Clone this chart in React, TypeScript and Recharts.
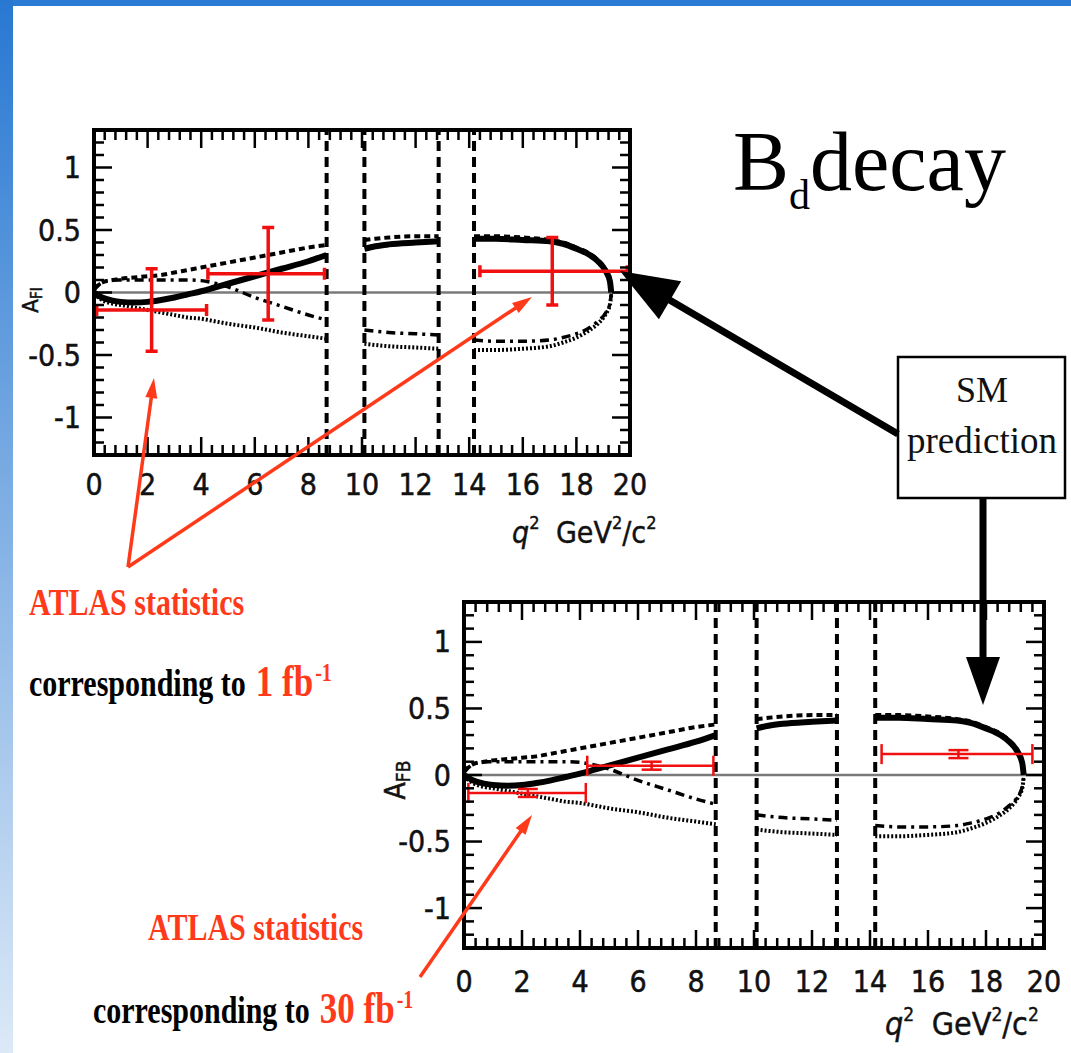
import React from 'react'
import { ComposedChart, Line, Scatter, ErrorBar, XAxis, YAxis, ReferenceLine } from 'recharts'

// q^2 grid of the theory curves, one block per window between the charmonium vetoes
const Q_LOW = [0, 0.3, 0.7, 1, 1.5, 2, 2.5, 3, 3.5, 4, 4.5, 5, 6, 7, 8, 8.68]
const Q_MID = [10.09, 10.5, 11, 12, 12.86]
const Q_HIGH = [14.18, 15, 16, 17, 17.5, 18, 18.5, 18.8, 19.1, 19.25, 19.3]

// SM prediction (thick solid)
const SM_LOW = [0, -0.04, -0.065, -0.075, -0.08, -0.075, -0.06, -0.04, -0.015, 0.01, 0.04, 0.07, 0.13, 0.19, 0.25, 0.3]
const SM_MID = [0.35, 0.37, 0.385, 0.4, 0.41]
const SM_HIGH = [0.43, 0.43, 0.42, 0.41, 0.39, 0.35, 0.3, 0.25, 0.17, 0.09, 0]

// upper dashed model
const DASH_LOW = [0.03, 0.08, 0.1, 0.11, 0.12, 0.13, 0.14, 0.16, 0.18, 0.2, 0.22, 0.24, 0.28, 0.32, 0.36, 0.38]
const DASH_MID = [0.42, 0.43, 0.44, 0.45, 0.45]
const DASH_HIGH = [0.45, 0.45, 0.44, 0.42, 0.4, 0.36, 0.31, 0.26, 0.18, 0.1, 0.01]

// dash-dot model (flat at +0.1 below 4 GeV^2)
const DASHDOT_LOW = [0.02, 0.08, 0.1, 0.1, 0.1, 0.1, 0.1, 0.1, 0.1, 0.095, 0.075, 0.045, -0.04, -0.11, -0.18, -0.22]
const DASHDOT_MID = [-0.3, -0.31, -0.32, -0.33, -0.34]
const DASHDOT_HIGH = [-0.38, -0.39, -0.39, -0.38, -0.36, -0.33, -0.28, -0.23, -0.16, -0.09, -0.01]

// lower dotted model
const DOT_LOW = [-0.01, -0.06, -0.09, -0.1, -0.12, -0.14, -0.16, -0.18, -0.2, -0.21, -0.23, -0.25, -0.28, -0.32, -0.35, -0.37]
const DOT_MID = [-0.41, -0.42, -0.43, -0.44, -0.45]
const DOT_HIGH = [-0.46, -0.46, -0.45, -0.43, -0.4, -0.36, -0.3, -0.25, -0.17, -0.1, -0.02]

// veto boundaries (vertical dashed lines)
const VETO_Q = [8.68, 10.09, 12.86, 14.18]

// ATLAS pseudo-data, 1 fb^-1
const TOP_Q = [2.15, 6.5, 17.1]
const TOP_A = [-0.14, 0.15, 0.17]
const TOP_BIN_LO = [0.1, 4.25, 14.4]
const TOP_BIN_HI = [4.2, 8.6, 19.9]
const TOP_ERR = [0.33, 0.37, 0.27]

// ATLAS pseudo-data, 30 fb^-1
const BOT_Q = [2.2, 6.47, 17.05]
const BOT_A = [-0.135, 0.07, 0.157]
const BOT_BIN_LO = [0.15, 4.25, 14.4]
const BOT_BIN_HI = [4.2, 8.6, 19.6]
const BOT_ERR = [0.03, 0.03, 0.03]

const X_LABELS = [0, 2, 4, 6, 8, 10, 12, 14, 16, 18, 20]
const Y_LABELS = [-1, -0.5, 0, 0.5, 1]

const X_TICKS = Array.from({ length: 51 }, (_, i) => i * 0.4)
const Y_TICKS = Array.from({ length: 27 }, (_, i) => (i - 13) / 10)

const GAP = null
const joinSeg = (a: number[], b: number[], c: number[]) => [...a, GAP, ...b, GAP, ...c]
const Q_ALL = [...Q_LOW, 9.4, ...Q_MID, 13.5, ...Q_HIGH]
const SM = joinSeg(SM_LOW, SM_MID, SM_HIGH)
const DASH = joinSeg(DASH_LOW, DASH_MID, DASH_HIGH)
const DASHDOT = joinSeg(DASHDOT_LOW, DASHDOT_MID, DASHDOT_HIGH)
const DOT = joinSeg(DOT_LOW, DOT_MID, DOT_HIGH)
const curves = Q_ALL.map((q, i) => ({ q, sm: SM[i], dash: DASH[i], dashdot: DASHDOT[i], dot: DOT[i] }))

const makePoints = (qs: number[], as: number[], lo: number[], hi: number[], err: number[]) =>
  qs.map((q, i) => ({ q, a: as[i], ex: [q - lo[i], hi[i] - q], ey: err[i] }))

const topPoints = makePoints(TOP_Q, TOP_A, TOP_BIN_LO, TOP_BIN_HI, TOP_ERR)
const botPoints = makePoints(BOT_Q, BOT_A, BOT_BIN_LO, BOT_BIN_HI, BOT_ERR)

const NARROW = '"Liberation Sans Narrow", "Arial Narrow", "DejaVu Sans Condensed", sans-serif'
const SERIF = '"Liberation Serif", "Times New Roman", serif'
const RED = '#ff3a1a'
const ERR_RED = '#f01010'

const near = (v: number, step: number) => Math.abs(v / step - Math.round(v / step)) < 1e-6
const fmt = (v: number) => (Math.abs(v) < 1e-9 ? '0' : String(v))

const xTick = (side: 'top' | 'bottom', labelDy: number) => (props: any) => {
  const { x, y, payload } = props
  const v = payload.value
  const major = near(v, 2)
  const len = major ? 18 : 10
  const dir = side === 'bottom' ? -1 : 1
  const lab = X_LABELS.find(l => Math.abs(l - v) < 1e-6)
  return (
    <g>
      <line x1={x} y1={y} x2={x} y2={y + dir * len} stroke="#000" strokeWidth={2.5} />
      {side === 'bottom' && lab !== undefined && (
        <text x={x} y={y + labelDy} textAnchor="middle" fontFamily={NARROW} fontSize={30} fill="#111" stroke="#111" strokeWidth={0.5}>
          {fmt(lab)}
        </text>
      )}
    </g>
  )
}

const yTick = (side: 'left' | 'right') => (props: any) => {
  const { x, y, payload } = props
  const v = payload.value
  const major = near(v, 0.5)
  const len = major ? 18 : 10
  const dir = side === 'left' ? 1 : -1
  const lab = Y_LABELS.find(l => Math.abs(l - v) < 1e-6)
  return (
    <g>
      <line x1={x} y1={y} x2={x + dir * len} y2={y} stroke="#000" strokeWidth={2.5} />
      {side === 'left' && lab !== undefined && (
        <text x={x - 13} y={y} textAnchor="end" dominantBaseline="central" fontFamily={NARROW} fontSize={30} fill="#111" stroke="#111" strokeWidth={0.5}>
          {fmt(lab)}
        </text>
      )}
    </g>
  )
}

const frameLine = { stroke: '#000', strokeWidth: 4, strokeLinecap: 'square' as const }

function AfbPlot({ width, height, margin, points, labelDy, barWidth, capWidth }: any) {
  return (
    <ComposedChart width={width} height={height} data={curves} margin={margin}>
      <XAxis xAxisId="b" dataKey="q" type="number" domain={[0, 20]} allowDataOverflow orientation="bottom" height={60}
        ticks={X_TICKS} interval={0} tickLine={false} tickSize={0} tickMargin={0} axisLine={frameLine} tick={xTick('bottom', labelDy)} />
      <XAxis xAxisId="t" dataKey="q" type="number" domain={[0, 20]} allowDataOverflow orientation="top" height={10}
        ticks={X_TICKS} interval={0} tickLine={false} tickSize={0} tickMargin={0} axisLine={frameLine} tick={xTick('top', 0)} />
      <YAxis yAxisId="l" type="number" domain={[-1.3, 1.3]} allowDataOverflow orientation="left" width={80}
        ticks={Y_TICKS} interval={0} tickLine={false} tickSize={0} tickMargin={0} axisLine={frameLine} tick={yTick('left')} />
      <YAxis yAxisId="r" type="number" domain={[-1.3, 1.3]} allowDataOverflow orientation="right" width={10}
        ticks={Y_TICKS} interval={0} tickLine={false} tickSize={0} tickMargin={0} axisLine={frameLine} tick={yTick('right')} />
      <ReferenceLine xAxisId="b" yAxisId="l" y={0} stroke="#7a7a7a" strokeWidth={2.5} />
      {VETO_Q.map(q => (
        <ReferenceLine key={q} xAxisId="b" yAxisId="l" x={q} stroke="#000" strokeWidth={4} strokeDasharray="10 6" />
      ))}
      <Line xAxisId="b" yAxisId="l" type="monotone" dataKey="dot" stroke="#000" strokeWidth={4} strokeDasharray="2 2" dot={false} isAnimationActive={false} />
      <Line xAxisId="b" yAxisId="l" type="monotone" dataKey="dashdot" stroke="#000" strokeWidth={3.5} strokeDasharray="9 5 3 5" dot={false} isAnimationActive={false} />
      <Line xAxisId="b" yAxisId="l" type="monotone" dataKey="dash" stroke="#000" strokeWidth={4} strokeDasharray="6 4" dot={false} isAnimationActive={false} />
      <Line xAxisId="b" yAxisId="l" type="monotone" dataKey="sm" stroke="#000" strokeWidth={6} dot={false} isAnimationActive={false} />
      <Scatter xAxisId="b" yAxisId="l" data={points} dataKey="a" shape={() => <g />} isAnimationActive={false}>
        <ErrorBar dataKey="ex" direction="x" stroke={ERR_RED} strokeWidth={barWidth} width={capWidth} />
        <ErrorBar dataKey="ey" direction="y" stroke={ERR_RED} strokeWidth={barWidth} width={capWidth} />
      </Scatter>
    </ComposedChart>
  )
}

function Arrow({ from, to, color, w, head, half }: any) {
  const dx = to[0] - from[0]
  const dy = to[1] - from[1]
  const len = Math.hypot(dx, dy)
  const ux = dx / len
  const uy = dy / len
  const bx = to[0] - ux * head
  const by = to[1] - uy * head
  const nx = -uy
  const ny = ux
  return (
    <g>
      <line x1={from[0]} y1={from[1]} x2={bx + ux * 3} y2={by + uy * 3} stroke={color} strokeWidth={w} />
      <polygon points={`${to[0]},${to[1]} ${bx + nx * half},${by + ny * half} ${bx - nx * half},${by - ny * half}`} fill={color} />
    </g>
  )
}

function AxisTitle({ x, y, size }: any) {
  const sup = Math.round(size * 0.6)
  const up = Math.round(size * 0.45)
  return (
    <text x={x} y={y} fontFamily={NARROW} fontSize={size} fill="#111" stroke="#111" strokeWidth={0.4}>
      <tspan fontStyle="italic">q</tspan>
      <tspan fontSize={sup} dy={-up}>2</tspan>
      <tspan dy={up} dx={size * 0.55}>GeV</tspan>
      <tspan fontSize={sup} dy={-up}>2</tspan>
      <tspan dy={up}>/c</tspan>
      <tspan fontSize={sup} dy={-up}>2</tspan>
    </text>
  )
}

// slide text is a tall, condensed serif: stretch vertically about the baseline
function Tall({ x, y, children }: any) {
  return <g transform={`translate(${x},${y}) scale(1,1.25)`}>{children}</g>
}

function Luminosity({ x, y, lumi }: any) {
  return (
    <Tall x={x} y={y}>
      <text x={0} y={0} fontFamily={SERIF} fontWeight="bold" fontSize={30} fill="#000">
        corresponding to
        <tspan dx={10} fontSize={35} fill={RED}>{lumi} fb</tspan>
        <tspan dx={2} dy={-12} fontSize={20} fill={RED}>-1</tspan>
      </text>
    </Tall>
  )
}

export default function App() {
  return (
    <div style={{ position: 'absolute', left: 0, top: 0, width: 1071, height: 1053, background: '#fff', overflow: 'hidden' }}>
      <div style={{ position: 'absolute', left: 0, top: 0, width: 1071, height: 6, background: '#2a7bd4' }} />
      <div style={{ position: 'absolute', left: 0, top: 0, width: 13, height: 1053, background: 'linear-gradient(to bottom, #2878d2, #dce9f7)' }} />

      <div style={{ position: 'absolute', left: 0, top: 100 }}>
        <AfbPlot width={680} height={460} margin={{ top: 20, right: 40, left: 14, bottom: 45 }} points={topPoints} labelDy={40} barWidth={3.5} capWidth={6} />
      </div>
      <div style={{ position: 'absolute', left: 380, top: 570 }}>
        <AfbPlot width={691} height={483} margin={{ top: 22, right: 17, left: 4, bottom: 45 }} points={botPoints} labelDy={44} barWidth={2.5} capWidth={10} />
      </div>

      <svg width={1071} height={1053} style={{ position: 'absolute', left: 0, top: 0, pointerEvents: 'none' }}>
        {/* axis titles */}
        <text transform="translate(38,300) rotate(-90)" textAnchor="middle" fontFamily={NARROW} fontSize={22} fill="#111" stroke="#111" strokeWidth={0.5}>
          A<tspan fontSize={15} dy={4}>FI</tspan>
        </text>
        <text transform="translate(405,780) rotate(-90)" textAnchor="middle" fontFamily={NARROW} fontSize={28} fill="#111" stroke="#111" strokeWidth={0.5}>
          A<tspan fontSize={19} dy={5}>FB</tspan>
        </text>
        <AxisTitle x={512} y={543} size={30} />
        <AxisTitle x={885} y={1035} size={32} />

        {/* title */}
        <text x={733} y={190} fontFamily={SERIF} fontSize={84} fill="#000">
          B<tspan dy={19} fontSize={42}>d</tspan><tspan dy={-19}>decay</tspan>
        </text>

        {/* SM prediction callout */}
        <rect x={898} y={357} width={167} height={141} fill="#fff" stroke="#000" strokeWidth={2.5} />
        <text x={982} y={402} textAnchor="middle" fontFamily={SERIF} fontSize={36} fill="#111">SM</text>
        <text x={982} y={453} textAnchor="middle" fontFamily={SERIF} fontSize={37} fill="#111">prediction</text>
        <Arrow from={[898, 434]} to={[620, 271]} color="#000" w={7} head={58} half={22} />
        <Arrow from={[983, 498]} to={[983, 705]} color="#000" w={7} head={48} half={17} />

        {/* ATLAS statistics annotations */}
        <Arrow from={[128, 567]} to={[154, 378]} color={RED} w={3.5} head={20} half={6} />
        <Arrow from={[128, 567]} to={[532, 297]} color={RED} w={3.5} head={20} half={6} />
        <Arrow from={[420, 977]} to={[532, 815]} color={RED} w={3.5} head={20} half={6} />

        <Tall x={29} y={615}>
          <text x={0} y={0} fontFamily={SERIF} fontWeight="bold" fontSize={30} fill={RED}>ATLAS statistics</text>
        </Tall>
        <Luminosity x={29} y={696} lumi="1" />

        <Tall x={148} y={940}>
          <text x={0} y={0} fontFamily={SERIF} fontWeight="bold" fontSize={30} fill={RED}>ATLAS statistics</text>
        </Tall>
        <Luminosity x={93} y={1023} lumi="30" />
      </svg>
    </div>
  )
}
